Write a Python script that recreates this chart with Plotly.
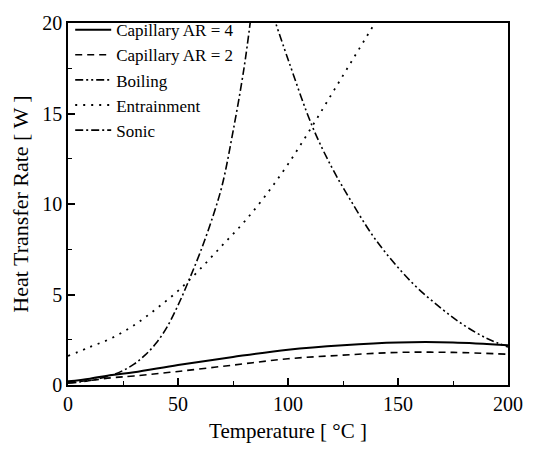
import plotly.graph_objects as go

# Data
cap4_x = [0, 10, 20, 30, 50, 75, 100, 125, 150, 175, 200]
cap4_y = [0.2, 0.35, 0.55, 0.7, 1.1, 1.55, 1.95, 2.2, 2.35, 2.35, 2.2]

cap2_x = [0, 10, 20, 30, 50, 75, 100, 125, 150, 175, 200]
cap2_y = [0.15, 0.25, 0.4, 0.5, 0.75, 1.1, 1.45, 1.65, 1.8, 1.8, 1.7]

boil_x = [93, 100, 111, 120, 128, 140, 156, 170, 180, 190, 200]
boil_y = [20.5, 18.0, 14.3, 12.0, 10.3, 8.0, 5.7, 4.2, 3.3, 2.6, 2.1]

entr_x = [0, 10, 20, 30, 40, 50, 60, 70, 80, 90, 100, 110, 120, 130, 140]
entr_y = [1.6, 2.1, 2.6, 3.3, 4.2, 5.2, 6.4, 7.7, 9.0, 10.5, 12.2, 14.1, 16.1, 18.1, 20.1]

sonic_x = [0, 10, 20, 25, 30, 35, 40, 45, 50, 55, 60, 65, 70, 75, 80, 83]
sonic_y = [0.1, 0.25, 0.55, 0.8, 1.15, 1.65, 2.3, 3.2, 4.4, 5.8, 7.3, 9.0, 11.0, 14.0, 17.5, 20.2]

x_ticks = [0, 50, 100, 150, 200]
y_ticks = [0, 5, 10, 15, 20]

FONT = "Liberation Serif, serif"

fig = go.Figure()
fig.add_trace(go.Scatter(x=cap4_x, y=cap4_y, mode="lines", name="Capillary AR = 4",
                         line=dict(color="black", width=2, shape="spline")))
fig.add_trace(go.Scatter(x=cap2_x, y=cap2_y, mode="lines", name="Capillary AR = 2",
                         line=dict(color="black", width=1.6, dash="7px,5px", shape="spline")))
fig.add_trace(go.Scatter(x=boil_x, y=boil_y, mode="lines", name="Boiling",
                         line=dict(color="black", width=1.6, dash="8px,3px,2px,3px,2px,3px", shape="spline")))
fig.add_trace(go.Scatter(x=entr_x, y=entr_y, mode="lines", name="Entrainment",
                         line=dict(color="black", width=1.8, dash="2px,6px", shape="spline")))
fig.add_trace(go.Scatter(x=sonic_x, y=sonic_y, mode="lines", name="Sonic",
                         line=dict(color="black", width=1.6, dash="8px,3px,2px,3px", shape="spline")))

axis_common = dict(
    showline=True, linecolor="black", linewidth=1.5, mirror=True,
    ticks="inside", ticklen=7, tickwidth=1.5, tickcolor="black",
    showgrid=False, zeroline=False,
    tickfont=dict(family=FONT, size=20, color="black"),
)

fig.update_xaxes(range=[0, 200], tickvals=x_ticks, ticktext=[str(v) for v in x_ticks],
                 title=dict(text="Temperature [ °C ]", font=dict(family=FONT, size=21, color="black"), standoff=10),
                 minor=dict(ticks="inside", ticklen=4, tickcolor="black", dtick=25, tickwidth=1.2),
                 **axis_common)
fig.update_yaxes(range=[0, 20], tickvals=y_ticks, ticktext=[str(v) for v in y_ticks],
                 title=dict(text="Heat Transfer Rate [ W ]", font=dict(family=FONT, size=22, color="black"), standoff=8),
                 minor=dict(ticks="inside", ticklen=4, tickcolor="black", dtick=2.5, tickwidth=1.2),
                 **axis_common)

fig.update_layout(
    width=543, height=451,
    margin=dict(l=68, r=35, t=17, b=63),
    paper_bgcolor="white", plot_bgcolor="white",
    font=dict(family=FONT, color="black"),
    showlegend=True,
    legend=dict(x=0.005, y=1.03, xanchor="left", yanchor="top",
                bgcolor="rgba(0,0,0,0)", borderwidth=0,
                font=dict(family=FONT, size=17, color="black"),
                tracegroupgap=0, itemwidth=36),
)

fig.write_html("out.html")
